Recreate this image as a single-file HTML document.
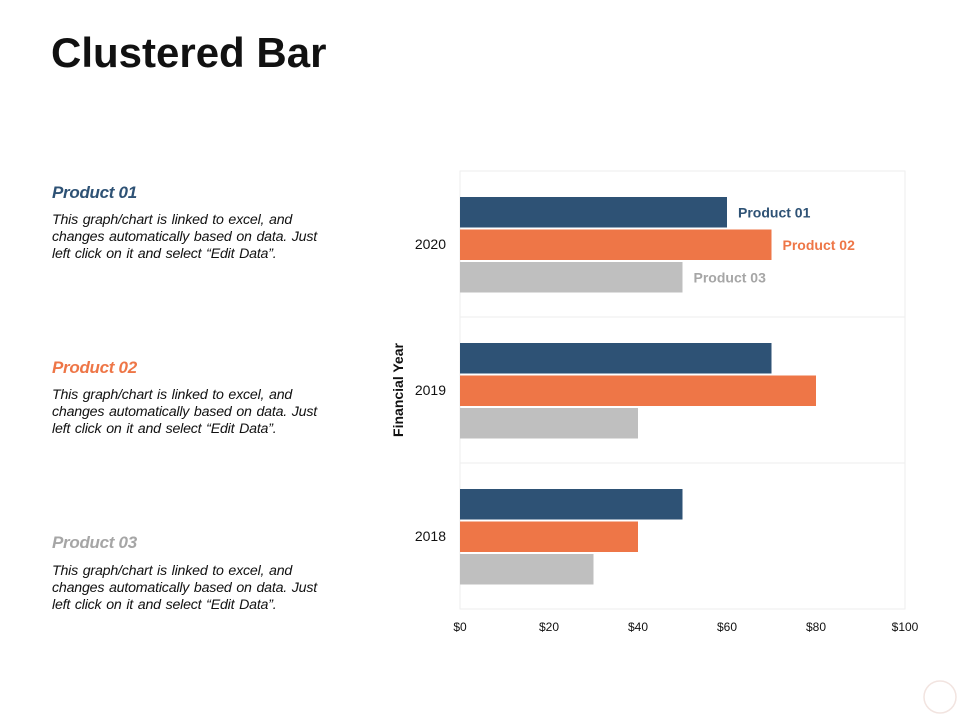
<!DOCTYPE html>
<html><head><meta charset="utf-8"><style>
body{margin:0;width:960px;height:720px;background:#fff;font-family:"Liberation Sans",sans-serif;overflow:hidden;position:relative}
h1{position:absolute;left:51px;top:29px;margin:0;font-size:42px;font-weight:bold;color:#111;letter-spacing:0px}
.ph{position:absolute;left:52px;font-size:17px;font-weight:bold;font-style:italic;margin:0;letter-spacing:-0.3px}
.pd{position:absolute;left:52px;width:280px;font-size:14.2px;font-style:italic;line-height:17px;color:#111;margin:0;letter-spacing:-0.2px;word-spacing:1px}
</style></head><body>
<h1>Clustered Bar</h1>
<p class="ph" style="top:183px;color:#2e5275">Product 01</p>
<p class="pd" style="top:212px">This graph/chart is linked to excel, and changes automatically based on data. Just left click on it and select “Edit Data”.</p>
<p class="ph" style="top:358px;color:#ee7647">Product 02</p>
<p class="pd" style="top:387px">This graph/chart is linked to excel, and changes automatically based on data. Just left click on it and select “Edit Data”.</p>
<p class="ph" style="top:533px;color:#a6a6a6">Product 03</p>
<p class="pd" style="top:563px">This graph/chart is linked to excel, and changes automatically based on data. Just left click on it and select “Edit Data”.</p>
<svg id="chart" width="960" height="720" style="position:absolute;left:0;top:0"></svg>
<svg width="960" height="720" style="position:absolute;left:0;top:0;pointer-events:none"><circle cx="940" cy="697" r="16" fill="none" stroke="#f2e4e0" stroke-width="1.5"/></svg>
<script>
const categories=["2020","2019","2018"];
const product01=[60,70,50];
const product02=[70,80,40];
const product03=[50,40,30];
const xTicks=[0,20,40,60,80,100];
const xTickLabels=["$0","$20","$40","$60","$80","$100"];
const seriesNames=["Product 01","Product 02","Product 03"];
const colors=["#2e5275","#ee7647","#bfbfbf"];
const labelColors=["#2e5275","#ee7647","#a6a6a6"];
const NS="http://www.w3.org/2000/svg";
const svg=document.getElementById('chart');
const L=460,R=905,T=171,B=609;
const x=v=>L+(v-0)/(100-0)*(R-L);
const band=(B-T)/categories.length;
const y=i=>T+i*band;
function mk(t,a){const e=document.createElementNS(NS,t);for(const k in a)e.setAttribute(k,a[k]);svg.appendChild(e);return e;}
const frame=mk('rect',{x:L,y:T,width:R-L,height:B-T,fill:'none',stroke:'#eeeeee'});


for(let i=1;i<categories.length;i++){const g=mk('line',{x1:L,x2:R,y1:y(i),y2:y(i),stroke:'#eeeeee'});

}
const series=[product01,product02,product03];
const bh=30.5,gap=2,off=26;
categories.forEach((c,i)=>{
 const t=mk('text',{x:446,y:y(i)+band/2+5,'text-anchor':'end','font-size':14,fill:'#111'});t.textContent=c;
 
 
 series.forEach((s,j)=>{
  const by=y(i)+off+j*(bh+gap);
  const r=mk('rect',{x:L,y:by,width:x(s[i])-L,height:bh,fill:colors[j]});
  
  
  if(i===0){const lt=mk('text',{x:x(s[i])+11,y:by+bh/2+5,'font-size':14,'font-weight':'bold',fill:labelColors[j]});lt.textContent=seriesNames[j];
  
  }
 });
});
xTicks.forEach((v,i)=>{const t=mk('text',{x:x(v),y:631,'text-anchor':'middle','font-size':12,fill:'#111'});t.textContent=xTickLabels[i];

});
const yt=mk('text',{x:0,y:0,'font-size':14,'font-weight':'bold',fill:'#111','text-anchor':'middle',transform:'translate(403,390) rotate(-90)'});yt.textContent='Financial Year';


</script>
</body></html>
